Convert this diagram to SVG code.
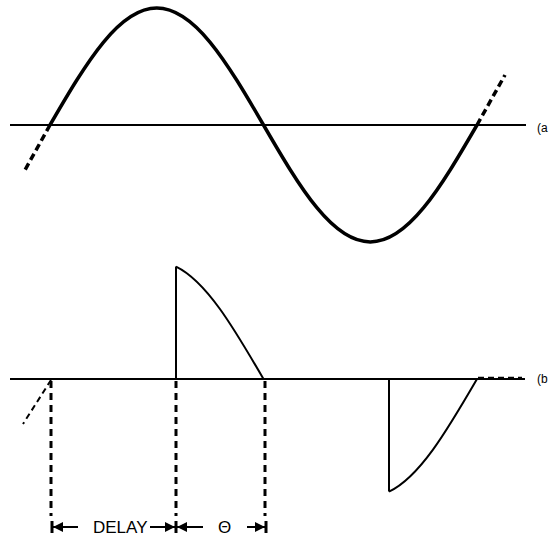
<svg xmlns="http://www.w3.org/2000/svg" width="551" height="538" viewBox="0 0 551 538">
<style>
.ax{stroke:#000;stroke-width:2;fill:none}
.wave{stroke:#000;stroke-width:3.5;fill:none;stroke-linecap:butt}
.pulse{stroke:#000;stroke-width:2;fill:none}
.thickdash{stroke:#000;stroke-width:3.5;fill:none;stroke-dasharray:7 4}
.thindash{stroke:#000;stroke-width:2;fill:none;stroke-dasharray:6 4}
.vdash{stroke:#000;stroke-width:3;fill:none;stroke-dasharray:7 5}
.dim{stroke:#000;stroke-width:2;fill:none}
.tick{stroke:#000;stroke-width:3}
.lbl{font-family:"Liberation Sans",Arial,sans-serif;fill:#000}
</style>
<defs>
<marker id="ah" viewBox="0 0 10 10" refX="10" refY="5" markerWidth="5" markerHeight="5" orient="auto-start-reverse" markerUnits="strokeWidth">
<path d="M0,0 L10,5 L0,10 z" fill="#000"/>
</marker>
</defs>
<rect width="551" height="538" fill="#fff"/>
<g id="waveform-a">
<line class="ax" x1="10" y1="125" x2="526" y2="125"/>
<path class="wave" d="M50,125 C67.79,94.37 85.59,63.93 103.38,42.27 C121.17,20.61 138.96,8 156.75,8 C174.54,8 192.34,20.61 210.13,42.27 C227.92,63.93 245.71,94.37 263.5,125 C281.29,155.63 299.09,186.07 316.88,207.73 C334.67,229.39 352.46,242 370.25,242 C388.04,242 405.84,229.39 423.63,207.73 C441.42,186.07 459.21,155.63 477,125"/>
<line class="thickdash" x1="50" y1="125" x2="25" y2="170"/>
<line class="thickdash" x1="477" y1="125" x2="505" y2="75"/>
<text class="lbl" x="537" y="132" font-size="12">(a</text>
</g>
<g id="waveform-b">
<line class="ax" x1="10" y1="379" x2="525" y2="379" stroke-width="2.5"/>
<line class="ax" x1="51" y1="379" x2="176" y2="379" stroke-width="3"/>
<line class="ax" x1="264" y1="379" x2="389" y2="379" stroke-width="3"/>
<line class="pulse" x1="176" y1="379" x2="176" y2="266.6" stroke-width="2.5"/>
<path class="pulse" d="M176,266.64 C190.58,273.64 205.17,288.67 219.75,308.75 C234.33,328.83 248.92,353.89 263.5,379"/>
<line class="pulse" x1="389" y1="379" x2="389" y2="491.6" stroke-width="2.5"/>
<path class="pulse" d="M389,491.6 C403.67,484.72 418.33,469.72 433,449.57 C447.67,429.42 462.33,404.26 477,379"/>
<line class="thindash" x1="51" y1="380" x2="23" y2="424"/>
<line class="thindash" x1="478" y1="377.8" x2="522" y2="377.8" stroke-width="1.5"/>
<text class="lbl" x="537" y="383" font-size="12">(b</text>
</g>
<g id="connectors">
<line class="vdash" x1="51" y1="381" x2="51" y2="516"/>
<line class="vdash" x1="176" y1="381" x2="176" y2="516"/>
<line class="vdash" x1="265" y1="381" x2="265" y2="516"/>
<line class="tick" x1="52" y1="521" x2="52" y2="533"/>
<line class="tick" x1="176" y1="521" x2="176" y2="533"/>
<line class="tick" x1="266" y1="521" x2="266" y2="533"/>
<line class="dim" x1="78" y1="527" x2="53" y2="527" marker-end="url(#ah)"/>
<line class="dim" x1="150" y1="527" x2="175" y2="527" marker-end="url(#ah)"/>
<line class="dim" x1="203" y1="527" x2="177" y2="527" marker-end="url(#ah)"/>
<line class="dim" x1="247" y1="527" x2="265" y2="527" marker-end="url(#ah)"/>
</g>
<g id="labels">
<text class="lbl" x="93" y="533" font-size="17">DELAY</text>
<text class="lbl" x="224.5" y="533" font-size="17" text-anchor="middle">Θ</text>
</g>
</svg>
